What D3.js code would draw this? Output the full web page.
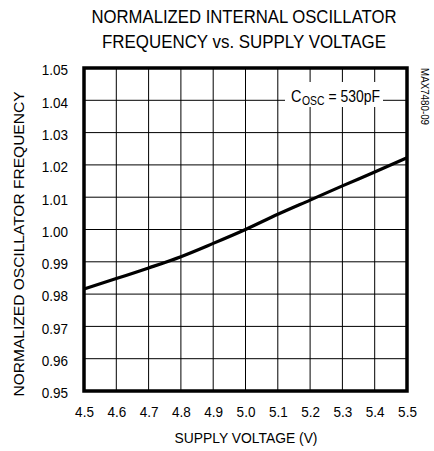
<!DOCTYPE html>
<html>
<head>
    <meta charset="utf-8">
    <title>Normalized internal oscillator frequency vs. supply voltage</title>
    <script type="text/javascript" src="https://cdnjs.cloudflare.com/ajax/libs/d3/7.8.5/d3.min.js"></script>
    <style>
        body { margin: 0; background: #fff; }
        text { font-family: "Liberation Sans", Arial, sans-serif; fill: #000; }
        .grid line { stroke: #000; stroke-width: 1px; }
    </style>
</head>
<body>
<script type="text/javascript">
    // supply voltage (V) and normalized frequency
    var voltage = [4.5, 4.6, 4.7, 4.8, 4.9, 5.0, 5.1, 5.2, 5.3, 5.4, 5.5];
    var freq = [0.9816, 0.9848, 0.9881, 0.9916, 0.9957, 1.0000, 1.0047, 1.0091, 1.0135, 1.0178, 1.0222];

    var xTicks = [4.5, 4.6, 4.7, 4.8, 4.9, 5.0, 5.1, 5.2, 5.3, 5.4, 5.5];
    var yTicks = [0.95, 0.96, 0.97, 0.98, 0.99, 1.00, 1.01, 1.02, 1.03, 1.04, 1.05];

    var titleLines = ["NORMALIZED INTERNAL OSCILLATOR", "FREQUENCY vs. SUPPLY VOLTAGE"];

    var width = 434,
        height = 451,
        plot = {left: 84, right: 407, top: 68, bottom: 391};

    var x = d3.scaleLinear().domain([4.5, 5.5]).range([plot.left, plot.right]);
    var y = d3.scaleLinear().domain([0.95, 1.05]).range([plot.bottom, plot.top]);

    var svg = d3.select("body").append("svg")
            .attr("width", width)
            .attr("height", height);

    // squeeze text to look like the narrow font of the original
    function narrow(sel, ratio) {
        sel.each(function () {
            var len = this.getComputedTextLength();
            d3.select(this)
                    .attr("textLength", len * ratio)
                    .attr("lengthAdjust", "spacingAndGlyphs");
        });
    }

    // title
    var titleWidths = [305, 284];
    svg.selectAll("text.title")
            .data(titleLines)
            .enter().append("text")
            .attr("class", "title")
            .attr("x", 244)
            .attr("y", function (d, i) { return 23 + i * 25; })
            .attr("text-anchor", "middle")
            .style("font-size", "18px")
            .attr("textLength", function (d, i) { return titleWidths[i]; })
            .attr("lengthAdjust", "spacingAndGlyphs")
            .text(function (d) { return d; });

    // grid
    var grid = svg.append("g").attr("class", "grid");
    grid.selectAll("line.v")
            .data(xTicks.slice(1, -1))
            .enter().append("line")
            .attr("x1", x).attr("x2", x)
            .attr("y1", plot.top).attr("y2", plot.bottom);
    grid.selectAll("line.h")
            .data(yTicks.slice(1, -1))
            .enter().append("line")
            .attr("x1", plot.left).attr("x2", plot.right)
            .attr("y1", y).attr("y2", y);

    // axes, tick labels only
    var xAxis = svg.append("g")
            .attr("transform", "translate(0," + plot.bottom + ")")
            .call(d3.axisBottom(x).tickValues(xTicks).tickSize(0).tickPadding(15)
                    .tickFormat(d3.format(".1f")));
    var yAxis = svg.append("g")
            .attr("transform", "translate(" + plot.left + ",2)")
            .call(d3.axisLeft(y).tickValues(yTicks).tickSize(0).tickPadding(16)
                    .tickFormat(d3.format(".2f")));
    [xAxis, yAxis].forEach(function (a) {
        a.select(".domain").remove();
        a.attr("font-family", null).attr("font-size", null);
        a.selectAll("text").style("font-size", "15px");
        narrow(a.selectAll("text"), 0.9);
    });

    // annotation, on a white patch over the grid
    svg.append("rect")
            .attr("x", 285).attr("y", 82)
            .attr("width", 98).attr("height", 25)
            .attr("fill", "#fff");
    var annC = svg.append("text")
            .attr("x", 291).attr("y", 102)
            .style("font-size", "17px")
            .text("C");
    narrow(annC, 0.85);
    var annSub = svg.append("text")
            .attr("x", 302).attr("y", 105)
            .style("font-size", "13px")
            .text("OSC");
    narrow(annSub, 0.8);
    var annVal = svg.append("text")
            .attr("x", 380).attr("y", 102)
            .attr("text-anchor", "end")
            .style("font-size", "17px")
            .text("= 530pF");
    narrow(annVal, 0.82);

    // curve
    var line = d3.line()
            .x(function (d, i) { return x(voltage[i]); })
            .y(function (d) { return y(d); })
            .curve(d3.curveMonotoneX);
    svg.append("path")
            .datum(freq)
            .attr("d", line)
            .attr("fill", "none")
            .attr("stroke", "#000")
            .attr("stroke-width", 3.2);

    // frame
    svg.append("rect")
            .attr("x", plot.left).attr("y", plot.top)
            .attr("width", plot.right - plot.left).attr("height", plot.bottom - plot.top)
            .attr("fill", "none")
            .attr("stroke", "#000")
            .attr("stroke-width", 3.5);

    // axis titles
    svg.append("text")
            .attr("x", 246).attr("y", 443)
            .attr("text-anchor", "middle")
            .style("font-size", "15px")
            .attr("textLength", 143)
            .attr("lengthAdjust", "spacingAndGlyphs")
            .text("SUPPLY VOLTAGE (V)");
    svg.append("text")
            .attr("transform", "translate(24,244)rotate(-90)")
            .attr("text-anchor", "middle")
            .style("font-size", "15px")
            .attr("textLength", 305)
            .attr("lengthAdjust", "spacingAndGlyphs")
            .text("NORMALIZED OSCILLATOR FREQUENCY");

    svg.append("text")
            .attr("transform", "translate(421,68)rotate(90)")
            .style("font-size", "10px")
            .attr("textLength", 57)
            .attr("lengthAdjust", "spacingAndGlyphs")
            .text("MAX7480-09");
</script>
</body>
</html>
